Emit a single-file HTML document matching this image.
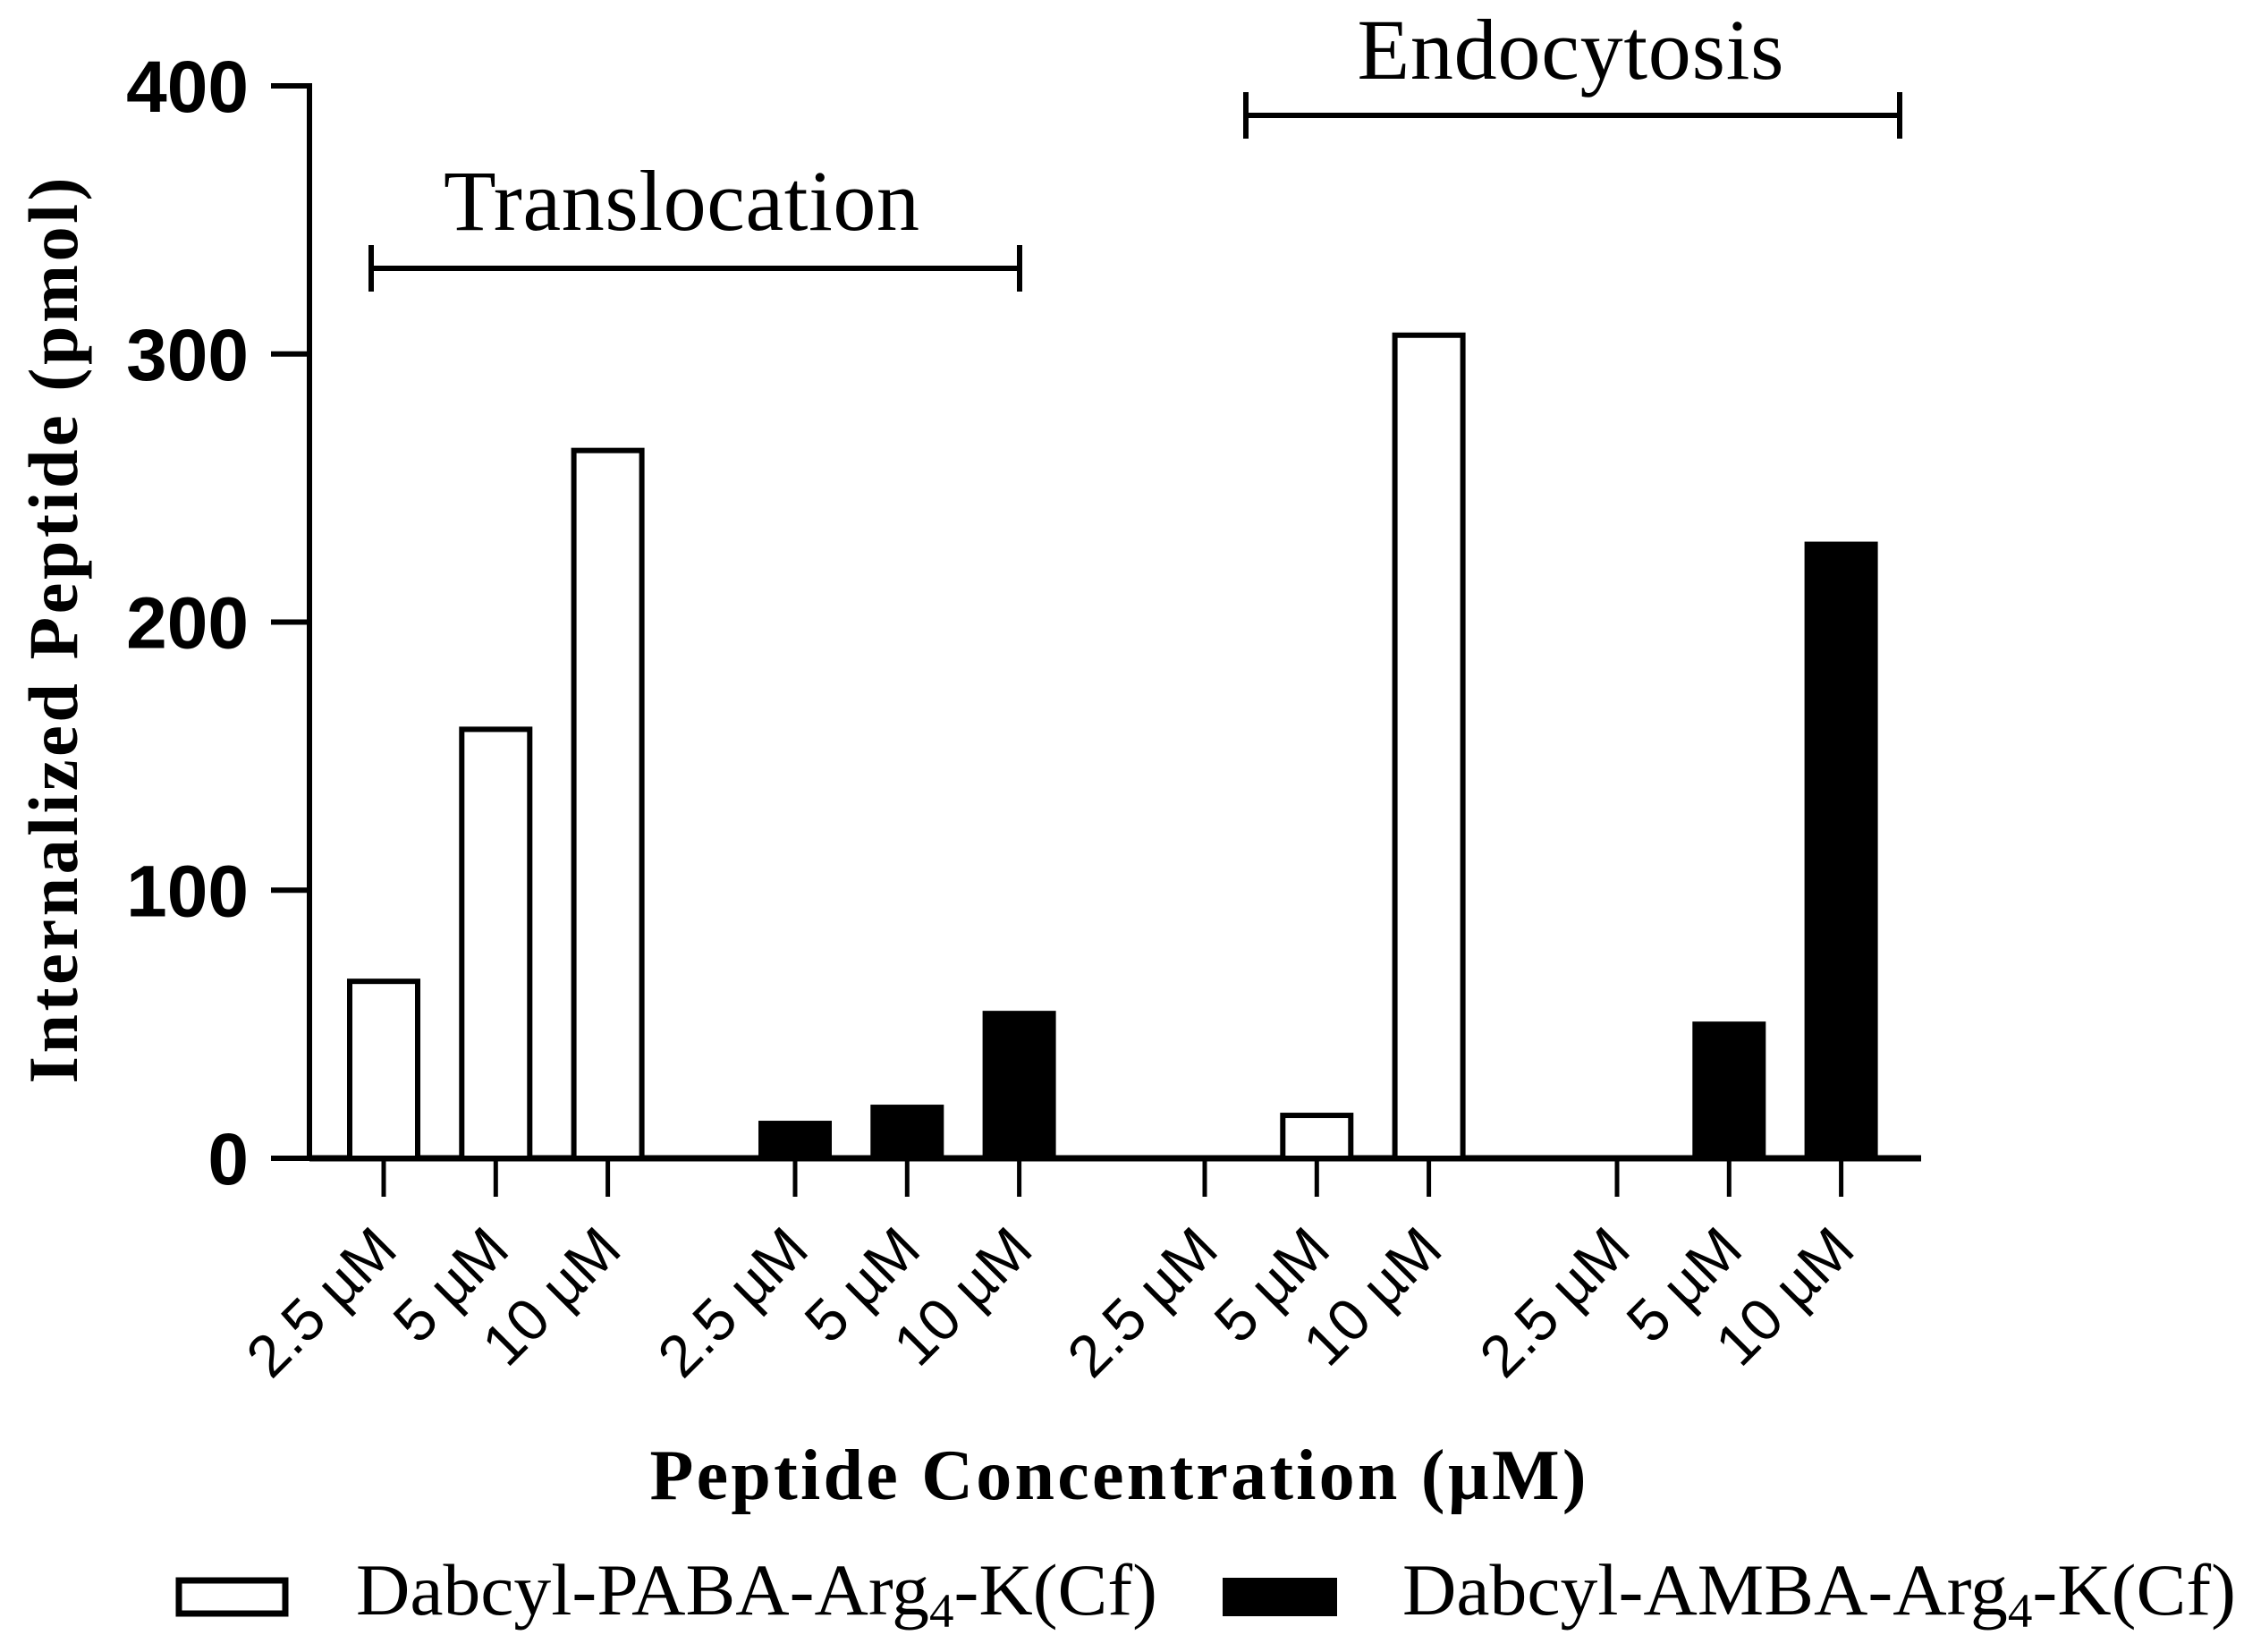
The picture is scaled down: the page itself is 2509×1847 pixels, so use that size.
<!DOCTYPE html>
<html><head><meta charset="utf-8"><style>
html,body{margin:0;padding:0;background:#fff;}
svg{display:block;}
</style></head>
<body>
<svg id="chart" width="2509" height="1847" viewBox="0 0 2509 1847" xmlns="http://www.w3.org/2000/svg">
<g id="axes"></g>
<g id="bars"></g>
<g id="xlabels"></g>
<g stroke="#000" stroke-width="6">
  <line x1="412" y1="300" x2="1140" y2="300"/>
  <line x1="415" y1="274" x2="415" y2="326"/>
  <line x1="1140" y1="274" x2="1140" y2="326"/>
</g>
<text x="762" y="257" text-anchor="middle" font-family="Liberation Serif, serif" font-size="96" textLength="532">Translocation</text>
<g stroke="#000" stroke-width="6">
  <line x1="1390" y1="129" x2="2124" y2="129"/>
  <line x1="1393" y1="103" x2="1393" y2="155"/>
  <line x1="2124" y1="103" x2="2124" y2="155"/>
</g>
<text x="1756" y="88" text-anchor="middle" font-family="Liberation Serif, serif" font-size="96" textLength="477">Endocytosis</text>
<text transform="translate(86,705) rotate(-90)" text-anchor="middle" font-family="Liberation Serif, serif" font-weight="bold" font-size="78" textLength="1013">Internalized Peptide (pmol)</text>
<text x="1250" y="1676" text-anchor="middle" font-family="Liberation Serif, serif" font-weight="bold" font-size="80" textLength="1047">Peptide Concentration (µM)</text>
<g>
  <rect x="200" y="1767" width="119" height="37" fill="#fff" stroke="#000" stroke-width="7"/>
  <text x="398" y="1805" font-family="Liberation Serif, serif" font-size="82" textLength="896" lengthAdjust="spacingAndGlyphs">Dabcyl-PABA-Arg<tspan font-size="54" dy="14">4</tspan><tspan dy="-14">-K(Cf)</tspan></text>
  <rect x="1367" y="1764" width="128" height="43" fill="#000"/>
  <text x="1568" y="1805" font-family="Liberation Serif, serif" font-size="82" textLength="932" lengthAdjust="spacingAndGlyphs">Dabcyl-AMBA-Arg<tspan font-size="54" dy="14">4</tspan><tspan dy="-14">-K(Cf)</tspan></text>
</g>
<script>
const categories = ["2.5 µM","5 µM","10 µM","2.5 µM","5 µM","10 µM","2.5 µM","5 µM","10 µM","2.5 µM","5 µM","10 µM"];
const seriesType = ["open","open","open","filled","filled","filled","open","open","open","filled","filled","filled"];
const values = [67,161,265,14,20,55,0,17,308,0,51,230];
const yTicks = [0,100,200,300,400];
const yTickLabels = ["0","100","200","300","400"];

const NS="http://www.w3.org/2000/svg";
const y0=1295, y400=96, xAxisL=346, xAxisR=2148;
function yScale(v){return y0-(v/400)*(y0-y400);}
const groupStart=[429,889,1347,1808], step=125.3;
function xScale(i){return groupStart[Math.floor(i/3)]+(i%3)*step;}
function mk(tag,attrs,parent){const e=document.createElementNS(NS,tag);for(const k in attrs)e.setAttribute(k,attrs[k]);parent.appendChild(e);return e;}

const axes=document.getElementById('axes');
const ya=mk('line',{x1:xAxisL,y1:y400-3,x2:xAxisL,y2:y0+3,stroke:'#000','stroke-width':6},axes);


const xa=mk('line',{x1:xAxisL,y1:y0,x2:xAxisR,y2:y0,stroke:'#000','stroke-width':7},axes);


yTicks.forEach((t,k)=>{
  const y=yScale(t);
  const tk=mk('line',{x1:303,y1:y,x2:xAxisL,y2:y,stroke:'#000','stroke-width':6},axes);
  
  
  const tl=mk('text',{x:278,y:y+29,'text-anchor':'end','font-family':'Liberation Sans, sans-serif','font-weight':'bold','font-size':82},axes);
  tl.textContent=yTickLabels[k];
  
  
});
const bars=document.getElementById('bars');
const xl=document.getElementById('xlabels');
categories.forEach((c,i)=>{
  const x=xScale(i);
  const tk=mk('line',{x1:x,y1:y0,x2:x,y2:1338,stroke:'#000','stroke-width':5},axes);
  
  
  const v=values[i];
  if(v>0){
    const top=yScale(v);
    let r;
    if(seriesType[i]==='open'){
      r=mk('rect',{x:x-38,y:top+3,width:76,height:y0-top-3,fill:'#fff',stroke:'#000','stroke-width':6},bars);
    }else{
      r=mk('rect',{x:x-41,y:top,width:82,height:y0-top,fill:'#000'},bars);
    }
    
    
  }
  const t=mk('text',{transform:'translate('+(x+18)+',1400) rotate(-45)','text-anchor':'end','font-family':'Liberation Sans, sans-serif','font-size':66},xl);
  t.textContent=c;
  
  
});
</script>
</svg>
</body></html>
